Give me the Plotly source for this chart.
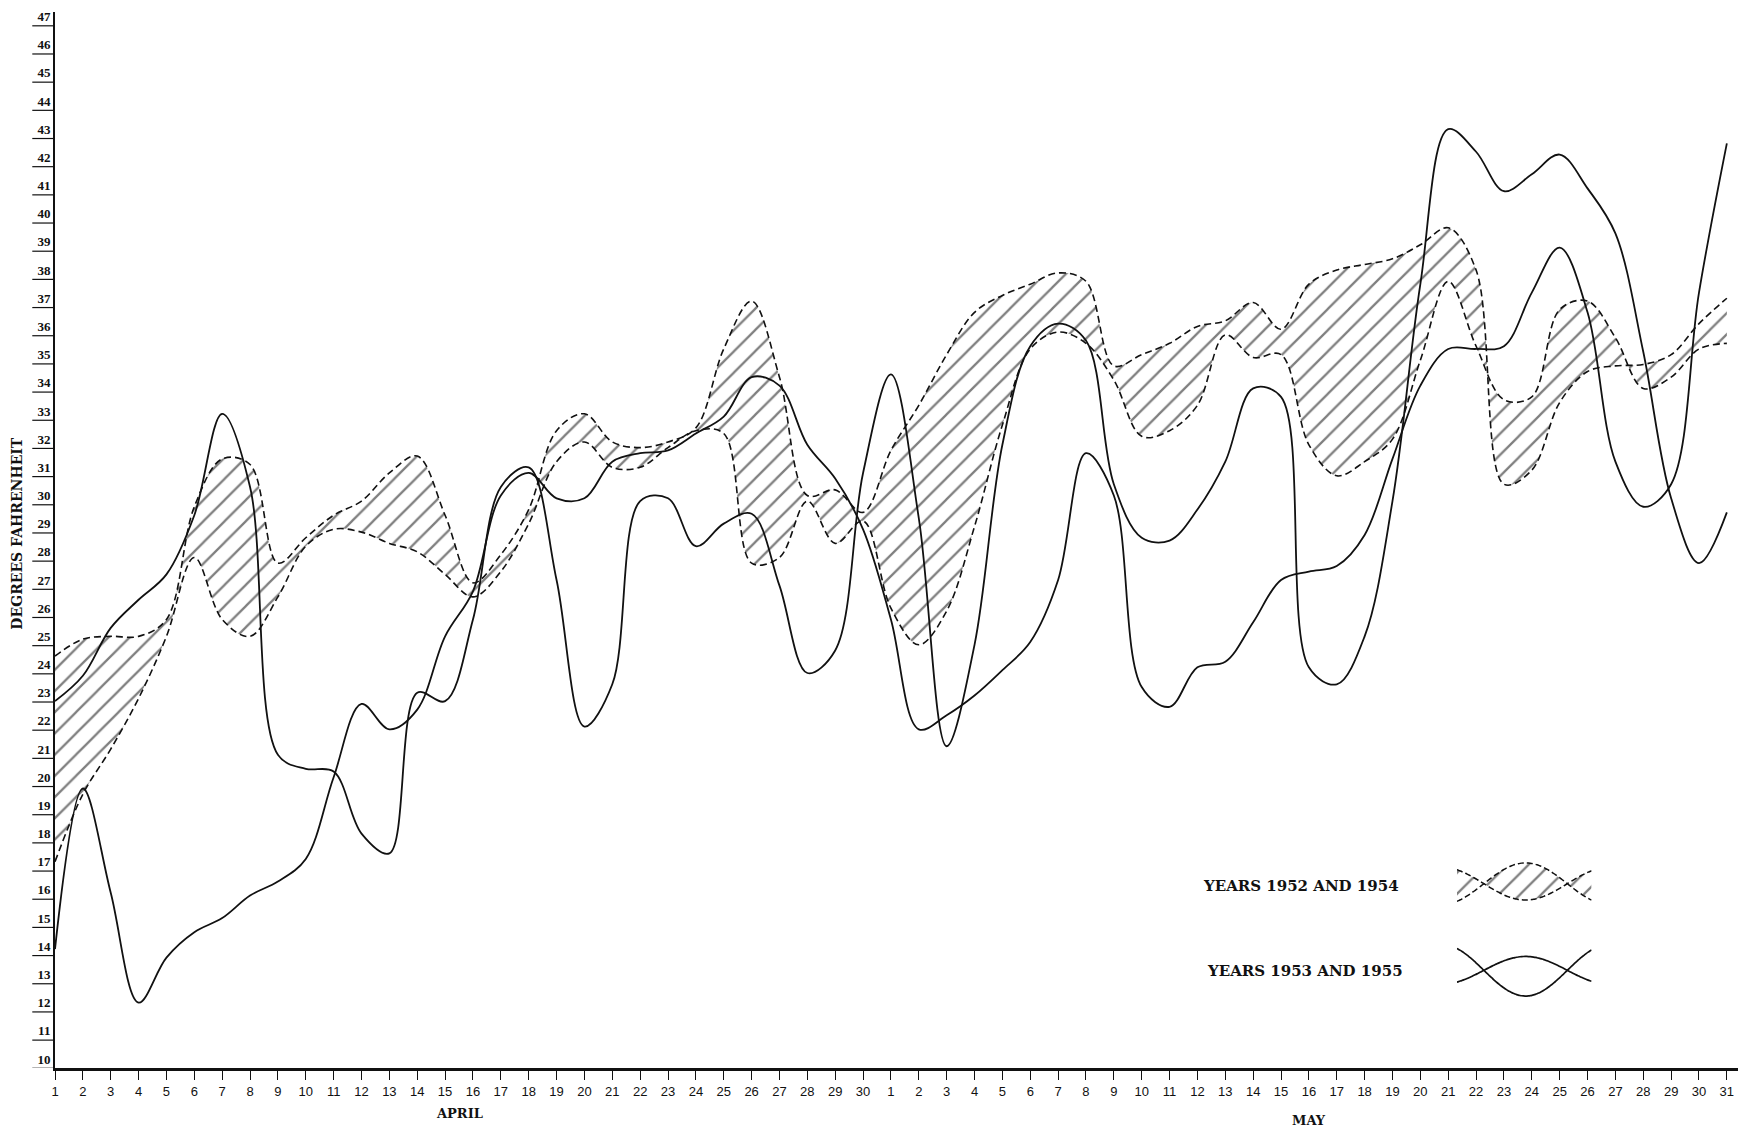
import numpy as np
import plotly.graph_objects as go

# ---------------- data ----------------
APRIL_DAYS = list(range(1, 31))
MAY_DAYS = list(range(1, 32))
DAY_LABELS = [str(d) for d in APRIL_DAYS] + [str(d) for d in MAY_DAYS]
DAY_INDEX = list(range(len(DAY_LABELS)))

# dashed pair (hatched between them)
YEAR_1952 = [24.3, 24.9, 25.0, 25.0, 25.6, 29.6, 31.3, 31.1, 27.6, 28.5,
             29.3, 29.8, 30.8, 31.4, 29.3, 26.9, 27.9, 29.5, 32.3, 32.9,
             31.9, 31.7, 31.9, 32.4, 35.2, 36.9, 34.2, 30.0, 30.2, 29.4,
             31.6, 33.2, 35.0, 36.5, 37.1, 37.5, 37.9, 37.6, 34.6, 35.0,
             35.4, 36.0, 36.2, 36.85, 35.9, 37.5, 38.0, 38.2, 38.4, 38.9,
             39.5, 38.0, 30.4, 30.9, 33.3, 34.4, 34.6, 34.65, 35.0, 36.1,
             37.0]
YEAR_1954 = [17.0, 19.4, 21.0, 22.8, 25.0, 27.8, 25.6, 25.0, 26.4, 28.2,
             28.8, 28.7, 28.3, 28.0, 27.2, 26.4, 27.3, 29.0, 31.2, 31.9,
             31.0, 31.0, 31.7, 32.3, 32.2, 27.6, 27.8, 29.8, 28.3, 29.1,
             26.0, 24.7, 25.9, 28.9, 32.5, 35.2, 35.8, 35.4, 34.1, 32.1,
             32.3, 33.2, 35.7, 34.9, 35.0, 31.8, 30.7, 31.2, 32.0, 34.8,
             37.6, 35.3, 33.4, 33.5, 36.6, 36.9, 35.6, 33.8, 34.2, 35.2,
             35.4]
# solid pair
YEAR_1953 = [22.7, 23.6, 25.3, 26.3, 27.2, 29.3, 32.9, 30.3, 20.8, 20.3,
             20.2, 18.0, 17.3, 23.0, 22.7, 25.6, 30.3, 31.0, 27.0, 21.8,
             23.3, 29.8, 29.9, 28.2, 29.0, 29.35, 26.8, 23.7, 24.5, 30.8,
             34.3, 29.2, 21.1, 24.7, 31.8, 35.3, 36.1, 35.5, 30.4, 28.5,
             28.4, 29.5, 31.2, 33.8, 33.5, 23.9, 23.3, 25.0, 29.8, 37.5,
             43.0, 42.2, 40.8, 41.4, 42.1, 40.9, 39.3, 35.1, 29.9, 27.6,
             29.4]
YEAR_1955 = [13.9, 19.6, 15.9, 12.0, 13.6, 14.5, 15.0, 15.8, 16.3, 17.1,
             20.0, 22.6, 21.7, 22.4, 25.0, 26.6, 30.0, 30.8, 29.9, 29.9,
             31.2, 31.5, 31.6, 32.2, 32.8, 34.2, 33.9, 31.8, 30.6, 28.8,
             25.6, 21.7, 22.2, 22.9, 23.8, 24.8, 27.0, 31.5, 30.0, 23.2,
             22.5, 23.9, 24.1, 25.5, 27.0, 27.3, 27.5, 28.6, 31.3, 33.9,
             35.2, 35.2, 35.3, 37.2, 38.8, 36.5, 31.2, 29.6, 30.4, 37.2,
             42.5]

Y_TICKS = list(range(10, 48))
LEGEND_LABELS = ["YEARS 1952 AND 1954", "YEARS 1953 AND 1955"]
MONTH_NAMES = ["APRIL", "MAY"]

# ---------------- styling ----------------
INK = "#111111"
SERIF = "Liberation Serif, DejaVu Serif, serif"
WIDE_SERIF = "DejaVu Serif, Liberation Serif, serif"
NARROW = "Liberation Sans Narrow, Liberation Sans, Arial, sans-serif"
DASH = "7px,4px"

fig = go.Figure()

dashed_line = dict(color=INK, width=1.6, dash=DASH, shape="spline", smoothing=1.0)
solid_line = dict(color=INK, width=1.8, shape="spline", smoothing=1.0)
hatch = dict(shape="/", fgcolor="#000000", bgcolor="rgba(255,255,255,0)", size=15, solidity=0.15)

fig.add_trace(go.Scatter(x=DAY_INDEX, y=YEAR_1952, mode="lines", line=dashed_line,
                         name="1952", hoverinfo="skip"))
fig.add_trace(go.Scatter(x=DAY_INDEX, y=YEAR_1954, mode="lines", line=dashed_line,
                         fill="tonexty", fillcolor="rgba(0,0,0,0)", fillpattern=hatch,
                         name="1954", hoverinfo="skip"))
fig.add_trace(go.Scatter(x=DAY_INDEX, y=YEAR_1953, mode="lines", line=solid_line,
                         name="1953", hoverinfo="skip"))
fig.add_trace(go.Scatter(x=DAY_INDEX, y=YEAR_1955, mode="lines", line=solid_line,
                         name="1955", hoverinfo="skip"))

# ---------------- legend glyphs (decorative, on their own hidden axes) ----------------
t = np.linspace(0, 1, 80)
s = np.sin(np.pi * (t - 0.2) / 0.62)
g1_top = 2.55 + 0.42 * s
g1_bot = 2.55 - 0.33 * s
g2_top = 0.80 + 0.28 * s
g2_bot = 0.80 - 0.52 * s
fig.add_trace(go.Scatter(x=t, y=g1_top, mode="lines", xaxis="x2", yaxis="y2",
                         line=dict(color=INK, width=1.5, dash="6px,3px", shape="spline"),
                         hoverinfo="skip"))
fig.add_trace(go.Scatter(x=t, y=g1_bot, mode="lines", xaxis="x2", yaxis="y2",
                         line=dict(color=INK, width=1.5, dash="6px,3px", shape="spline"),
                         fill="tonexty", fillcolor="rgba(0,0,0,0)", fillpattern=hatch,
                         hoverinfo="skip"))
fig.add_trace(go.Scatter(x=t, y=g2_top, mode="lines", xaxis="x2", yaxis="y2",
                         line=dict(color=INK, width=1.7, shape="spline"), hoverinfo="skip"))
fig.add_trace(go.Scatter(x=t, y=g2_bot, mode="lines", xaxis="x2", yaxis="y2",
                         line=dict(color=INK, width=1.7, shape="spline"), hoverinfo="skip"))

# ---------------- layout ----------------
shapes = []
for v in Y_TICKS:
    shapes.append(dict(type="line", xref="paper", yref="y", x0=-0.0135, x1=0,
                       y0=v - 0.33, y1=v - 0.33, line=dict(color=INK, width=1.2)))

n_apr = len(APRIL_DAYS)
n_may = len(MAY_DAYS)
bold = dict(color=INK, weight="bold")
annotations = [
    dict(text=MONTH_NAMES[0], x=(n_apr - 1) / 2, xref="x", y=0, yref="paper",
         xanchor="center", yanchor="middle", yshift=-45, showarrow=False,
         font=dict(family=WIDE_SERIF, size=13, **bold)),
    dict(text=MONTH_NAMES[1], x=n_apr + (n_may - 1) / 2, xref="x", y=0, yref="paper",
         xanchor="center", yanchor="middle", yshift=-52, showarrow=False,
         font=dict(family=WIDE_SERIF, size=13, **bold)),
    dict(text="DEGREES FAHRENHEIT", x=-0.0226, xref="paper", y=0.506, yref="paper",
         xanchor="center", yanchor="middle", textangle=-90, showarrow=False,
         font=dict(family=WIDE_SERIF, size=14, **bold)),
    dict(text=LEGEND_LABELS[0], x=0.7404, xref="paper", y=0.1728, yref="paper",
         xanchor="center", yanchor="middle", showarrow=False,
         font=dict(family=WIDE_SERIF, size=15, **bold)),
    dict(text=LEGEND_LABELS[1], x=0.7427, xref="paper", y=0.0916, yref="paper",
         xanchor="center", yanchor="middle", showarrow=False,
         font=dict(family=WIDE_SERIF, size=15, **bold)),
]

fig.update_layout(
    width=1757, height=1131, autosize=False,
    margin=dict(l=55, r=19, t=9, b=63),
    paper_bgcolor="white", plot_bgcolor="white",
    showlegend=False,
    shapes=shapes, annotations=annotations,
    xaxis=dict(range=[0, 60.4], tickmode="array", tickvals=DAY_INDEX, ticktext=DAY_LABELS,
               ticks="outside", ticklen=9, tickwidth=1.3, tickcolor=INK, tickangle=0,
               showline=True, linewidth=3, linecolor=INK, showgrid=False, zeroline=False,
               tickfont=dict(family=NARROW, size=13, color=INK)),
    yaxis=dict(range=[9.68, 47.16], tickmode="array", tickvals=Y_TICKS,
               ticktext=[str(v) for v in Y_TICKS], ticks="",
               showline=True, linewidth=2, linecolor=INK, showgrid=False, zeroline=False,
               tickfont=dict(family=SERIF, size=13, color=INK, weight="bold")),
    xaxis2=dict(domain=[0.833, 0.913], range=[0, 1], visible=False, anchor="y2"),
    yaxis2=dict(domain=[0.055, 0.205], range=[0, 3.2], visible=False, anchor="x2"),
)

fig.write_html("out.html")
